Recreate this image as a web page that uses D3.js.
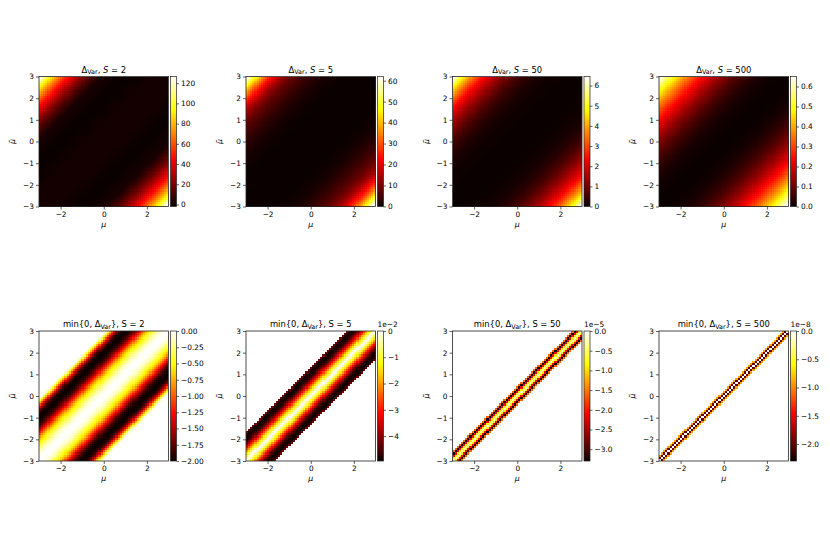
<!DOCTYPE html>
<html lang="en">
<head>
  <meta charset="UTF-8" />
  <title>Delta Var heatmaps</title>
  <style>
    body { margin: 0; background: #fff; }
    svg { display: block; }
    text { font-family: "DejaVu Sans", sans-serif; fill: #000; }
  </style>
</head>
<body>
  <svg id="chart" width="830" height="554" viewBox="0 0 830 554" xmlns="http://www.w3.org/2000/svg"></svg>

  <script src="https://d3js.org/d3.v7.min.js"></script>
  <script>
    // Delta_Var profiles, one value per |mu - mu~| = 0, 0.1, ..., 6.0
    const sValues = ["2", "5", "50", "500"];

    const deltaS2 = [0, -0.01, -0.03, -0.07, -0.12, -0.19, -0.27, -0.36, -0.46, -0.57,
      -0.69, -0.85, -1.02, -1.2, -1.4, -1.58, -1.74, -1.85, -1.93, -1.98,
      -2.0, -1.98, -1.93, -1.82, -1.64, -1.38, -1.05, -0.7, -0.38, -0.12,
      0.15, 0.8, 2.0, 3.5, 5.3, 7.3, 9.5, 11.9, 14.5, 17.3,
      20.3, 23.5, 26.9, 30.5, 34.3, 38.3, 42.5, 46.9, 51.5, 56.3,
      61.3, 66.5, 71.9, 77.5, 83.3, 89.3, 95.6, 102.2, 109.5, 117.5, 126.0];

    const deltaS5 = [0, -0.004, -0.009, -0.014, -0.02, -0.026, -0.032, -0.038, -0.043, -0.046,
      -0.0485, -0.049, -0.048, -0.042, 0.02, 0.06, 0.12, 0.2, 0.3, 0.42,
      0.56, 0.72, 0.9, 1.1, 1.33, 1.58, 1.86, 2.17, 2.5, 2.86,
      3.25, 3.67, 4.12, 4.6, 5.1, 5.65, 6.25, 6.9, 7.6, 8.4,
      9.3, 10.3, 11.4, 12.6, 14.0, 15.6, 17.4, 19.4, 21.6, 24.0,
      26.6, 29.4, 32.4, 35.6, 39.0, 42.6, 46.4, 50.4, 54.6, 58.5, 61.8];

    const deltaS50 = [-0.2e-5, -0.9e-5, -2.1e-5, -3.25e-5, -1.6e-5, 0.0002, 0.001, 0.003, 0.006, 0.01,
      0.015, 0.021, 0.028, 0.036, 0.045, 0.055, 0.066, 0.078, 0.091, 0.105,
      0.12, 0.15, 0.18, 0.21, 0.245, 0.28, 0.33, 0.38, 0.435, 0.49,
      0.55, 0.62, 0.70, 0.78, 0.865, 0.95, 1.05, 1.15, 1.26, 1.38,
      1.5, 1.63, 1.76, 1.9, 2.05, 2.2, 2.38, 2.57, 2.77, 2.98,
      3.2, 3.44, 3.68, 3.94, 4.21, 4.5, 4.83, 5.17, 5.54, 5.95, 6.4];

    const deltaS500 = [0, -2.0e-8, -0.9e-8, 0.0003, 0.0007, 0.0013, 0.002, 0.003, 0.0042, 0.0057,
      0.0073, 0.0092, 0.0114, 0.0138, 0.0166, 0.0196, 0.023, 0.0268, 0.031, 0.0355,
      0.041, 0.046, 0.052, 0.058, 0.065, 0.072, 0.08, 0.088, 0.096, 0.105,
      0.114, 0.124, 0.134, 0.145, 0.156, 0.168, 0.18, 0.193, 0.206, 0.22,
      0.234, 0.249, 0.264, 0.28, 0.297, 0.314, 0.332, 0.35, 0.369, 0.389,
      0.409, 0.43, 0.451, 0.473, 0.496, 0.519, 0.543, 0.567, 0.592, 0.618, 0.645];

    const profiles = [deltaS2, deltaS5, deltaS50, deltaS500];

    // colour bar ranges and ticks as printed
    const topDomains = [[-2, 126.6], [-0.0495, 62], [-3.3e-5, 6.45], [-2.3e-8, 0.65]];
    const bottomDomains = [[-2, 0], [-0.0495, 0], [-3.3e-5, 0], [-2.3e-8, 0]];

    const topTicks = [
      [0, 20, 40, 60, 80, 100, 120],
      [0, 10, 20, 30, 40, 50, 60],
      [0, 1, 2, 3, 4, 5, 6],
      [0, 0.1, 0.2, 0.3, 0.4, 0.5, 0.6]
    ];
    const topTickLabels = [
      ["0", "20", "40", "60", "80", "100", "120"],
      ["0", "10", "20", "30", "40", "50", "60"],
      ["0", "1", "2", "3", "4", "5", "6"],
      ["0.0", "0.1", "0.2", "0.3", "0.4", "0.5", "0.6"]
    ];

    const bottomScale = [1, 1e-2, 1e-5, 1e-8];
    const bottomOffset = ["", "1e\u22122", "1e\u22125", "1e\u22128"];
    const bottomTicks = [
      [0, -0.25, -0.5, -0.75, -1, -1.25, -1.5, -1.75, -2],
      [0, -1, -2, -3, -4],
      [0, -0.5, -1, -1.5, -2, -2.5, -3],
      [0, -0.5, -1, -1.5, -2]
    ];
    const bottomTickLabels = [
      ["0.00", "\u22120.25", "\u22120.50", "\u22120.75", "\u22121.00", "\u22121.25", "\u22121.50", "\u22121.75", "\u22122.00"],
      ["0", "\u22121", "\u22122", "\u22123", "\u22124"],
      ["0.0", "\u22120.5", "\u22121.0", "\u22121.5", "\u22122.0", "\u22122.5", "\u22123.0"],
      ["0.0", "\u22120.5", "\u22121.0", "\u22121.5", "\u22122.0"]
    ];

    const xTicks = [-2, 0, 2];
    const xTickLabels = ["\u22122", "0", "2"];
    const yTicks = [-3, -2, -1, 0, 1, 2, 3];
    const yTickLabels = ["\u22123", "\u22122", "\u22121", "0", "1", "2", "3"];

    // layout
    const svg = d3.select("#chart");
    const colLefts = [39, 246, 452.5, 659];
    const rowTops = [76.5, 331];
    const plotW = 129.5, plotH = 130;
    const cbGap = 2, cbW = 6;
    const fontSize = 7.4;
    const nCells = profiles[0].length;

    svg.append("rect").attr("width", 830).attr("height", 554).attr("fill", "#fff");

    // matplotlib "hot"
    function hot(t) {
      t = Math.max(0, Math.min(1, t));
      const r = t < 0.365079 ? 0.0416 + (1 - 0.0416) * t / 0.365079 : 1;
      const g = t < 0.365079 ? 0 : (t < 0.746032 ? (t - 0.365079) / (0.746032 - 0.365079) : 1);
      const b = t < 0.746032 ? 0 : (t - 0.746032) / (1 - 0.746032);
      return d3.rgb(r * 255, g * 255, b * 255).toString();
    }

    const defs = svg.append("defs");
    const grad = defs.append("linearGradient").attr("id", "hotGrad")
      .attr("x1", 0).attr("y1", 1).attr("x2", 0).attr("y2", 0);
    d3.range(0, 1.0001, 0.02).forEach(t => {
      grad.append("stop").attr("offset", t).attr("stop-color", hot(t));
    });

    const cells = d3.cross(d3.range(nCells), d3.range(nCells));

    function drawPanel(col, row) {
      const left = colLefts[col], top = rowTops[row];
      const isTop = row === 0;
      const profile = profiles[col];
      const domain = isTop ? topDomains[col] : bottomDomains[col];
      const color = d3.scaleSequential(hot).domain(domain);
      const g = svg.append("g");

      const xBand = d3.scaleBand().domain(d3.range(nCells)).range([left, left + plotW]);
      const yBand = d3.scaleBand().domain(d3.range(nCells)).range([top + plotH, top]);
      const x = d3.scaleLinear().domain([-3, 3]).range([left, left + plotW]);
      const y = d3.scaleLinear().domain([-3, 3]).range([top + plotH, top]);

      // snap cell edges to whole pixels so neighbours meet without seams
      const x0 = i => Math.round(xBand(i));
      const x1 = i => Math.round(xBand(i) + xBand.bandwidth());
      const y0 = j => Math.round(yBand(j));
      const y1 = j => Math.round(yBand(j) + yBand.bandwidth());

      g.append("g").attr("shape-rendering", "crispEdges").selectAll("rect")
        .data(cells)
        .join("rect")
        .attr("x", d => x0(d[0]))
        .attr("y", d => y0(d[1]))
        .attr("width", d => x1(d[0]) - x0(d[0]))
        .attr("height", d => y1(d[1]) - y0(d[1]))
        .attr("fill", d => {
          const v = profile[Math.abs(d[0] - d[1])];
          return color(isTop ? v : Math.min(0, v));
        });

      // spines
      g.append("rect")
        .attr("x", left).attr("y", top).attr("width", plotW).attr("height", plotH)
        .attr("fill", "none").attr("stroke", "#222").attr("stroke-width", 0.8);

      const xAxis = g.append("g")
        .attr("transform", `translate(0,${top + plotH})`)
        .call(d3.axisBottom(x).tickValues(xTicks).tickSize(3).tickSizeOuter(0).tickPadding(2)
          .tickFormat((d, i) => xTickLabels[i]));
      const yAxis = g.append("g")
        .attr("transform", `translate(${left},0)`)
        .call(d3.axisLeft(y).tickValues(yTicks).tickSize(3).tickSizeOuter(0).tickPadding(2)
          .tickFormat((d, i) => yTickLabels[i]));
      [xAxis, yAxis].forEach(a => {
        a.select(".domain").remove();
        a.selectAll("line").attr("stroke", "#222").attr("stroke-width", 0.7);
        a.selectAll("text").attr("font-size", fontSize).attr("font-family", "DejaVu Sans");
      });

      // axis labels
      g.append("text")
        .attr("x", left + plotW / 2).attr("y", top + plotH + 20)
        .attr("text-anchor", "middle").attr("font-size", fontSize + 0.4)
        .attr("font-style", "italic").text("\u03bc");
      g.append("text")
        .attr("transform", `translate(${left - 24},${top + plotH / 2}) rotate(-90)`)
        .attr("text-anchor", "middle").attr("font-size", fontSize + 0.4)
        .attr("font-style", "italic").text("\u03bc\u0303");

      // title
      const tSize = 8.4;
      const title = g.append("text")
        .attr("x", left + plotW / 2).attr("y", top - 4)
        .attr("text-anchor", "middle").attr("font-size", tSize);
      if (isTop) {
        title.append("tspan").text("\u0394");
        title.append("tspan").attr("font-size", tSize - 2).attr("dy", 1.8).text("Var");
        title.append("tspan").attr("dy", -1.8).text(", ");
        title.append("tspan").attr("font-style", "italic").text("S");
        title.append("tspan").text(" = " + sValues[col]);
      } else {
        title.append("tspan").text("min{0, \u0394");
        title.append("tspan").attr("font-size", tSize - 2).attr("dy", 1.8).text("Var");
        title.append("tspan").attr("dy", -1.8).text("}, S = " + sValues[col]);
      }

      // colour bar
      const cbLeft = left + plotW + cbGap;
      g.append("rect")
        .attr("x", cbLeft).attr("y", top).attr("width", cbW).attr("height", plotH)
        .attr("fill", "url(#hotGrad)")
        .attr("stroke", "#222").attr("stroke-width", 0.7);
      const cbScale = d3.scaleLinear().domain(domain).range([top + plotH, top]);
      const scale = isTop ? 1 : bottomScale[col];
      const ticks = isTop ? topTicks[col] : bottomTicks[col];
      const labels = isTop ? topTickLabels[col] : bottomTickLabels[col];
      const cbAxis = g.append("g")
        .attr("transform", `translate(${cbLeft + cbW},0)`)
        .call(d3.axisRight(cbScale).tickValues(ticks.map(t => t * scale))
          .tickSize(2.5).tickSizeOuter(0).tickPadding(2)
          .tickFormat((d, i) => labels[i]));
      cbAxis.select(".domain").remove();
      cbAxis.selectAll("line").attr("stroke", "#222").attr("stroke-width", 0.7);
      cbAxis.selectAll("text").attr("font-size", fontSize).attr("font-family", "DejaVu Sans");

      if (!isTop && bottomOffset[col]) {
        g.append("text")
          .attr("x", cbLeft).attr("y", top - 4.5)
          .attr("font-size", fontSize).text(bottomOffset[col]);
      }
    }

    for (let row = 0; row < 2; row++) {
      for (let col = 0; col < 4; col++) drawPanel(col, row);
    }
  </script>
</body>
</html>
